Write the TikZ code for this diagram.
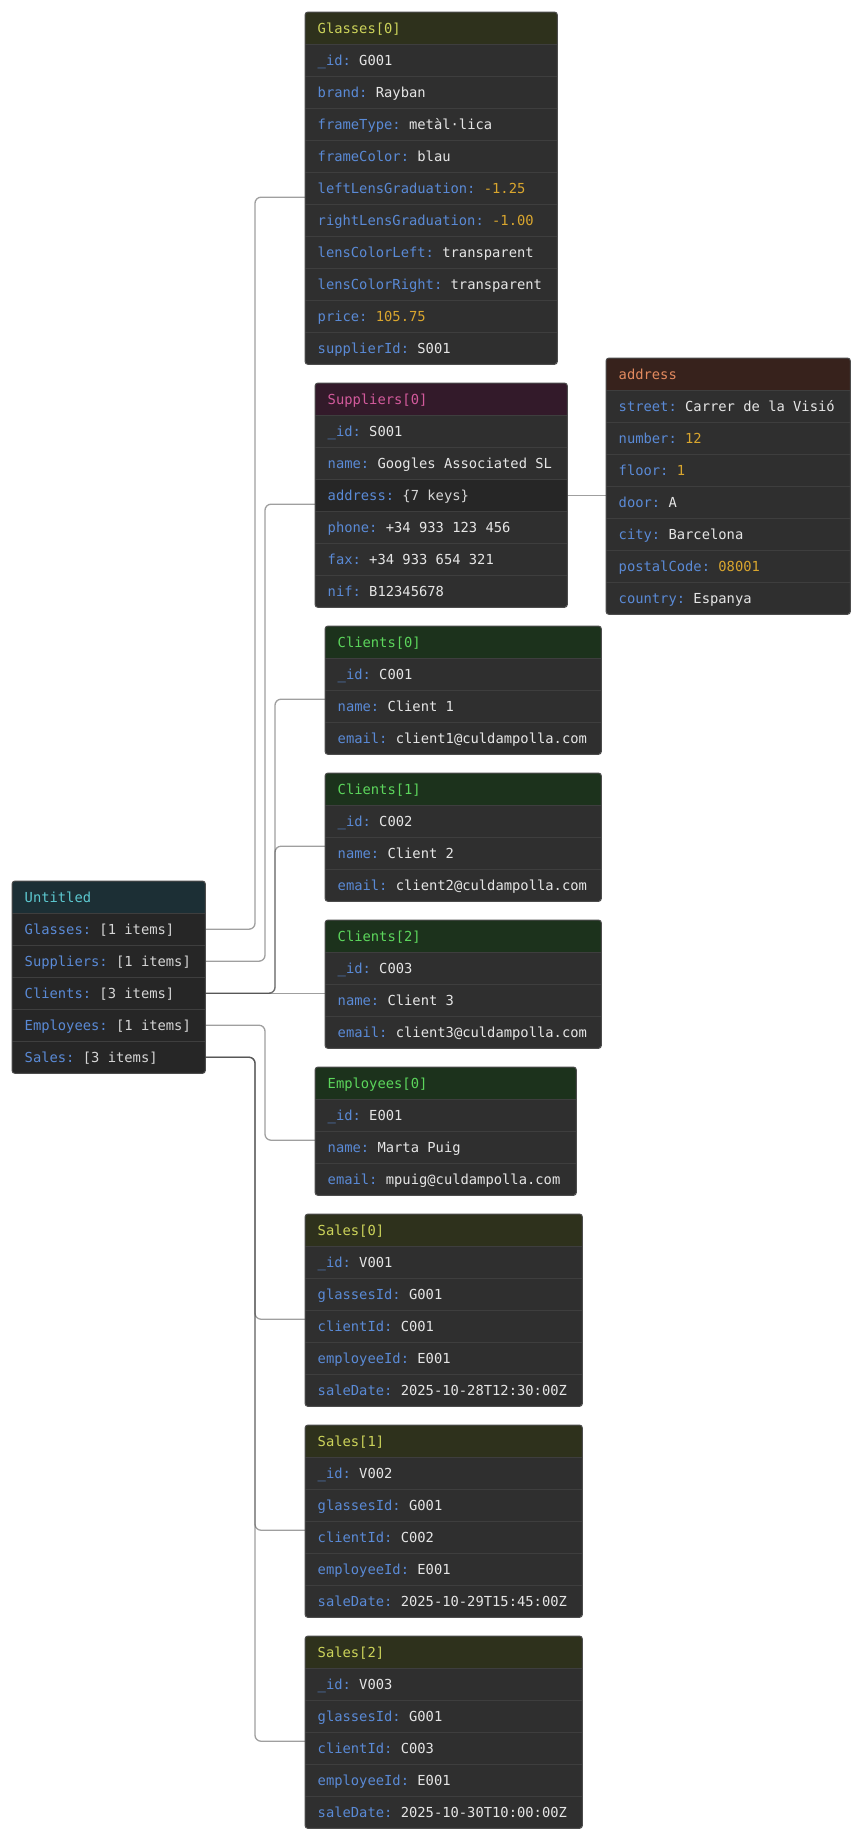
\documentclass[tikz,border=0pt]{standalone}
\usepackage{fontspec}
\newfontfamily\jmono{DejaVu Sans Mono}
\usetikzlibrary{calc}

\definecolor{bodybg}{HTML}{2F2F2F}
\definecolor{darkrow}{HTML}{262626}
\definecolor{sepc}{HTML}{3E3E3E}
\definecolor{borderc}{HTML}{4C4C4C}
\definecolor{keyc}{HTML}{5A8AD6}
\definecolor{strc}{HTML}{E6E6E6}
\definecolor{numc}{HTML}{D9A62E}
\definecolor{metac}{HTML}{D6D6D6}
\definecolor{linkc}{HTML}{404040}
% header palettes
\definecolor{olivebg}{HTML}{2E311C}\definecolor{olivefg}{HTML}{CDD45A}
\definecolor{plumbg}{HTML}{331A2A}\definecolor{plumfg}{HTML}{D35A9C}
\definecolor{brownbg}{HTML}{37221C}\definecolor{brownfg}{HTML}{E38A5F}
\definecolor{greenbg}{HTML}{1C321C}\definecolor{greenfg}{HTML}{5CD65C}
\definecolor{tealbg}{HTML}{1C2F35}\definecolor{tealfg}{HTML}{5CC8D0}

\newcommand\jfont{\jmono\fontsize{13.8}{16}\selectfont}
% one full monospaced character cell of blank space
\newcommand\jsp{\hspace{8.31pt}}

\tikzset{
  x=1pt, y=1pt,
  jframe/.style={rectangle, anchor=north west, inner sep=0pt, rounded corners=3pt},
  jrow/.style={rectangle, anchor=north west, minimum height=32pt,
    inner xsep=12.5pt, inner ysep=0pt, text height=10pt, text depth=0pt,
    align=left, text width=\jtw pt, font=\jfont},
  jsep/.style={draw=sepc, line width=1pt},
  jborder/.style={draw=borderc, line width=1pt, rounded corners=3pt},
  jlink/.style={draw=linkc, draw opacity=0.5, line width=1.3pt, rounded corners=6pt},
}

\newcounter{jrowidx}
% #1 name, #2 x, #3 top y, #4 width, #5 height, #6 header bg, #7 header fg, #8 title
\newcommand\jbox[8]{%
  \def\jname{#1}\setcounter{jrowidx}{0}%
  \pgfmathsetmacro\jtw{#4-25}%
  \node[jframe, fill=bodybg, minimum width=#4pt, minimum height=#5pt] (#1) at (#2,-#3) {};
  \begin{scope}
    \clip[rounded corners=3pt] (#1.north west) rectangle (#1.south east);
    \fill[#6] (#1.north west) rectangle ([yshift=-32pt]#1.north east);
  \end{scope}
  \node[jrow, text=#7] (#1-0) at (#1.north west) {#8};
}
% #1 key, #2 value, #3 value colour
\newcommand\jrow[3]{%
  \stepcounter{jrowidx}%
  \node[jrow] (\jname-\arabic{jrowidx}) at ([yshift=-\arabic{jrowidx}*32pt]\jname.north west)
    {\textcolor{keyc}{#1:}\jsp\textcolor{#3}{#2}};
  \draw[jsep] ([yshift=-\arabic{jrowidx}*32pt]\jname.north west) --
    ([yshift=-\arabic{jrowidx}*32pt]\jname.north east);
}
% a row that opens a nested object or array
\newcommand\jrowd[3]{%
  \stepcounter{jrowidx}%
  \begin{scope}
    \clip[rounded corners=3pt] (\jname.north west) rectangle (\jname.south east);
    \fill[darkrow] ([yshift=-\arabic{jrowidx}*32pt]\jname.north west) rectangle
      ([yshift=-\arabic{jrowidx}*32pt-32pt]\jname.north east);
  \end{scope}
  \node[jrow] (\jname-\arabic{jrowidx}) at ([yshift=-\arabic{jrowidx}*32pt]\jname.north west)
    {\textcolor{keyc}{#1:}\jsp\textcolor{#3}{#2}};
  \draw[jsep] ([yshift=-\arabic{jrowidx}*32pt]\jname.north west) --
    ([yshift=-\arabic{jrowidx}*32pt]\jname.north east);
}
\newcommand\jclose{\draw[jborder] (\jname.north west) rectangle (\jname.south east);}
% elbow connector from a row to the left side of a box
\newcommand\jlink[2]{%
  \draw[jlink] (#1.east) -| ([xshift=-50pt,yshift=-9pt]#2.west) -- ([yshift=-9pt]#2.west);}

\begin{document}
\begin{tikzpicture}
\fill[white] (0,0) rectangle (863,-1839);
\useasboundingbox (0,0) rectangle (863,-1839);

% ---------- boxes ----------
\jbox{g}{305}{12}{252}{352}{olivebg}{olivefg}{Glasses[0]}
\jrow{\_id}{G001}{strc}
\jrow{brand}{Rayban}{strc}
\jrow{frameType}{metàl·lica}{strc}
\jrow{frameColor}{blau}{strc}
\jrow{leftLensGraduation}{-1.25}{numc}
\jrow{rightLensGraduation}{-1.00}{numc}
\jrow{lensColorLeft}{transparent}{strc}
\jrow{lensColorRight}{transparent}{strc}
\jrow{price}{105.75}{numc}
\jrow{supplierId}{S001}{strc}
\jclose

\jbox{s}{315}{383}{252}{224}{plumbg}{plumfg}{Suppliers[0]}
\jrow{\_id}{S001}{strc}
\jrow{name}{Googles\jsp Associated\jsp SL}{strc}
\jrowd{address}{\{7\jsp keys\}}{metac}
\jrow{phone}{+34\jsp 933\jsp 123\jsp 456}{strc}
\jrow{fax}{+34\jsp 933\jsp 654\jsp 321}{strc}
\jrow{nif}{B12345678}{strc}
\jclose

\jbox{a}{606}{358}{244}{256}{brownbg}{brownfg}{address}
\jrow{street}{Carrer\jsp de\jsp la\jsp Visió}{strc}
\jrow{number}{12}{numc}
\jrow{floor}{1}{numc}
\jrow{door}{A}{strc}
\jrow{city}{Barcelona}{strc}
\jrow{postalCode}{08001}{numc}
\jrow{country}{Espanya}{strc}
\jclose

\jbox{c0}{325}{626}{276}{128}{greenbg}{greenfg}{Clients[0]}
\jrow{\_id}{C001}{strc}
\jrow{name}{Client\jsp 1}{strc}
\jrow{email}{client1@culdampolla.com}{strc}
\jclose

\jbox{c1}{325}{773}{276}{128}{greenbg}{greenfg}{Clients[1]}
\jrow{\_id}{C002}{strc}
\jrow{name}{Client\jsp 2}{strc}
\jrow{email}{client2@culdampolla.com}{strc}
\jclose

\jbox{c2}{325}{920}{276}{128}{greenbg}{greenfg}{Clients[2]}
\jrow{\_id}{C003}{strc}
\jrow{name}{Client\jsp 3}{strc}
\jrow{email}{client3@culdampolla.com}{strc}
\jclose

\jbox{e0}{315}{1067}{261}{128}{greenbg}{greenfg}{Employees[0]}
\jrow{\_id}{E001}{strc}
\jrow{name}{Marta\jsp Puig}{strc}
\jrow{email}{mpuig@culdampolla.com}{strc}
\jclose

\jbox{v0}{305}{1214}{277}{192}{olivebg}{olivefg}{Sales[0]}
\jrow{\_id}{V001}{strc}
\jrow{glassesId}{G001}{strc}
\jrow{clientId}{C001}{strc}
\jrow{employeeId}{E001}{strc}
\jrow{saleDate}{2025-10-28T12:30:00Z}{strc}
\jclose

\jbox{v1}{305}{1425}{277}{192}{olivebg}{olivefg}{Sales[1]}
\jrow{\_id}{V002}{strc}
\jrow{glassesId}{G001}{strc}
\jrow{clientId}{C002}{strc}
\jrow{employeeId}{E001}{strc}
\jrow{saleDate}{2025-10-29T15:45:00Z}{strc}
\jclose

\jbox{v2}{305}{1636}{277}{192}{olivebg}{olivefg}{Sales[2]}
\jrow{\_id}{V003}{strc}
\jrow{glassesId}{G001}{strc}
\jrow{clientId}{C003}{strc}
\jrow{employeeId}{E001}{strc}
\jrow{saleDate}{2025-10-30T10:00:00Z}{strc}
\jclose

\jbox{u}{12}{881}{193}{192}{tealbg}{tealfg}{Untitled}
\jrowd{Glasses}{[1\jsp items]}{metac}
\jrowd{Suppliers}{[1\jsp items]}{metac}
\jrowd{Clients}{[3\jsp items]}{metac}
\jrowd{Employees}{[1\jsp items]}{metac}
\jrowd{Sales}{[3\jsp items]}{metac}
\jclose

% ---------- connectors ----------
\jlink{u-1}{g}
\jlink{u-2}{s}
\jlink{u-3}{c0}
\jlink{u-3}{c1}
\draw[jlink] (u-3.east) -- ([yshift=-9pt]c2.west);
\jlink{u-4}{e0}
\jlink{u-5}{v0}
\jlink{u-5}{v1}
\jlink{u-5}{v2}
\draw[jlink] (s-3.east) -- ([yshift=-9pt]a.west);
\end{tikzpicture}
\end{document}
